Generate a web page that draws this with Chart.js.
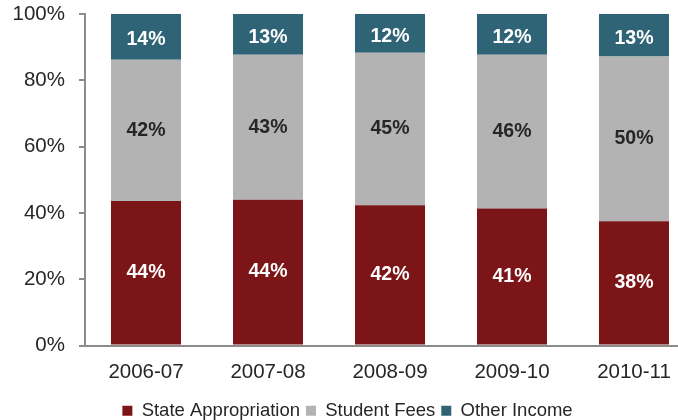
<!DOCTYPE html>
<html>
<head>
<meta charset="utf-8">
<script src="https://cdn.jsdelivr.net/npm/chart.js@4"></script>
<style>
  html, body { margin: 0; padding: 0; background: #fff; overflow: hidden; }
  #wrap { width: 700px; height: 420px; }
</style>
</head>
<body>
<div id="wrap"><canvas id="grafico"></canvas></div>
<script>
// categorias e valores
const anos = ['2006-07', '2007-08', '2008-09', '2009-10', '2010-11'];
const stateApprop = [43.6, 44.0, 42.3, 41.3, 37.5];
const studentFees = [42.6, 43.7, 46.0, 46.4, 49.7];
const otherIncome = [13.8, 12.3, 11.7, 12.3, 12.8];
// rótulos impressos dentro das barras
const stateLabels = ['44%', '44%', '42%', '41%', '38%'];
const feesLabels = ['42%', '43%', '45%', '46%', '50%'];
const otherLabels = ['14%', '13%', '12%', '12%', '13%'];
const yTicks = [0, 20, 40, 60, 80, 100];

const fonte = "'Liberation Sans', Arial, sans-serif";
const eixoCor = '#8c8c8c';

// desenha os rótulos no centro de cada segmento
const rotulosPlugin = {
    id: 'rotulos',
    afterDatasetsDraw(chart) {
        const ctx = chart.ctx;
        ctx.save();
        ctx.font = 'bold 19.5px ' + fonte;
        ctx.textAlign = 'center';
        ctx.textBaseline = 'middle';
        chart.data.datasets.forEach((ds, i) => {
            const meta = chart.getDatasetMeta(i);
            meta.data.forEach((bar, j) => {
                let y = (bar.y + bar.base) / 2;
                if (i === 2) y += 3;
                ctx.fillStyle = ds.corRotulo;
                ctx.fillText(ds.rotulos[j], bar.x, y);
            });
        });
        ctx.restore();
    }
};

new Chart(document.getElementById('grafico'), {
    type: 'bar',
    data: {
        labels: anos,
        datasets: [
            { label: 'State Appropriation', data: stateApprop, backgroundColor: '#7b1517', rotulos: stateLabels, corRotulo: '#ffffff' },
            { label: 'Student Fees', data: studentFees, backgroundColor: '#b3b3b4', rotulos: feesLabels, corRotulo: '#262626' },
            { label: 'Other Income', data: otherIncome, backgroundColor: '#2e6475', rotulos: otherLabels, corRotulo: '#ffffff' }
        ]
    },
    options: {
        responsive: true,
        maintainAspectRatio: false,
        animation: false,
        categoryPercentage: 1,
        barPercentage: 0.574,
        layout: { padding: { top: 14, right: 5, left: 0, bottom: -10 } },
        scales: {
            x: {
                stacked: true,
                grid: { display: false, drawTicks: false },
                border: { color: eixoCor, width: 2 },
                ticks: { color: '#262626', font: { family: fonte, size: 20.5 }, padding: 14.5 },
                afterFit: s => { s.height = 50; }
            },
            y: {
                stacked: true,
                min: 0,
                max: 100,
                afterBuildTicks: s => { s.ticks = yTicks.map(v => ({ value: v })); },
                grid: { drawOnChartArea: false, drawTicks: true, tickLength: 6, color: eixoCor, lineWidth: 2 },
                border: { color: eixoCor, width: 2 },
                ticks: {
                    color: '#262626',
                    font: { family: fonte, size: 20.5 },
                    padding: 14,
                    callback: v => v + '%'
                },
                afterFit: s => { s.width = 85; s.paddingTop = 0; s.paddingBottom = 0; }
            }
        },
        plugins: {
            legend: {
                position: 'bottom',
                labels: {
                    color: '#262626',
                    font: { family: fonte, size: 18.5 },
                    boxWidth: 10,
                    boxHeight: 10,
                    padding: 6
                }
            },
            tooltip: { enabled: false }
        }
    },
    plugins: [rotulosPlugin]
});
</script>
</body>
</html>
